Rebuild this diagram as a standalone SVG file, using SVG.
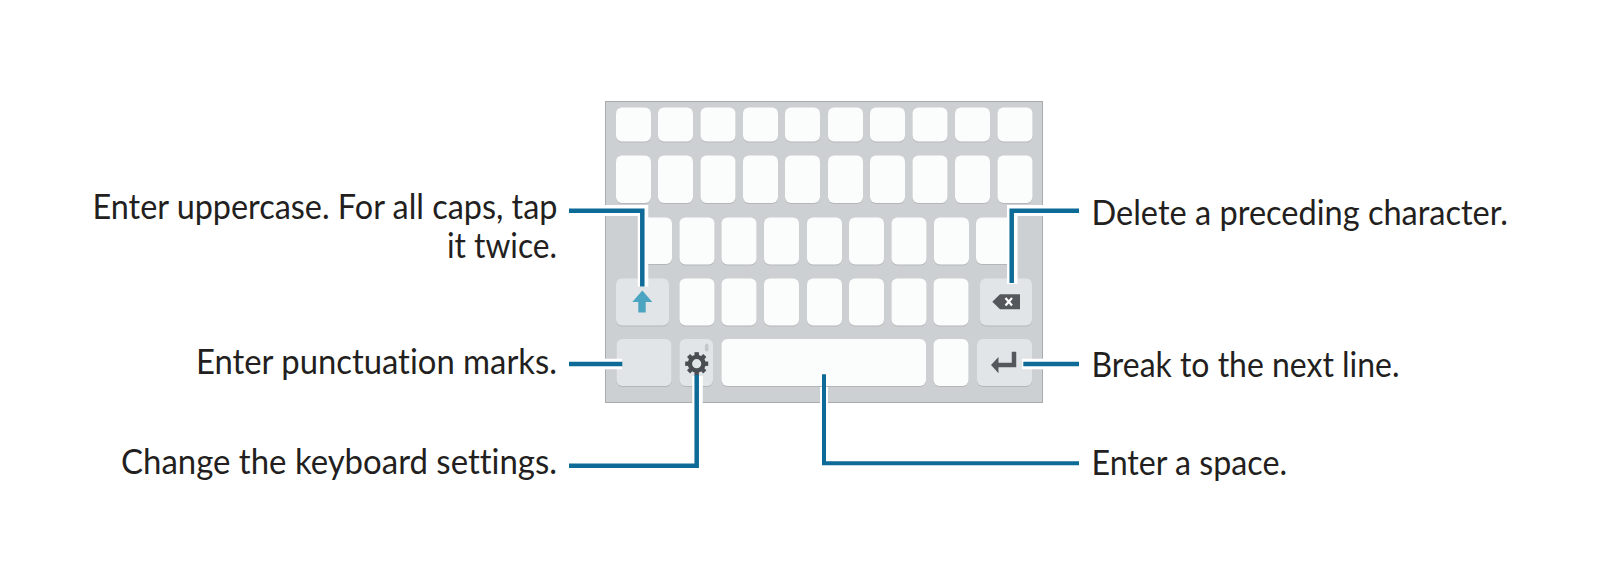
<svg xmlns="http://www.w3.org/2000/svg" width="1600" height="586" viewBox="0 0 1600 586">
<style>
.k{fill:#fbfcfc}
.f{fill:#e2e5e8}
#keys{filter:drop-shadow(0 1px 0 #b4b7ba)}
.t{font-family:"Lato","Open Sans",sans-serif;font-size:35px;fill:#231f20;font-variant-ligatures:none}
.c{fill:none;stroke:#0e6a96;stroke-width:4.500}
.h{fill:none;stroke:#fff;stroke-width:10.500}
.i{fill:#54585c}
.g{fill:#4a4d51}
</style>
<rect width="1600" height="586" fill="#fff"/>
<g id="keyboard">
<rect x="605.500" y="101.500" width="437" height="301" fill="#cdd0d3" stroke="#a9abad" stroke-width="1"/>
<rect x="600" y="205" width="48" height="11" fill="#fff"/>
<rect x="1007" y="205" width="40" height="11" fill="#fff"/>
</g>
<g id="keys">
<g id="row1">
<rect class="k" x="616" y="107.500" width="35" height="34" rx="6"/><rect class="k" x="658" y="107.500" width="35" height="34" rx="6"/><rect class="k" x="700.500" y="107.500" width="35" height="34" rx="6"/><rect class="k" x="743" y="107.500" width="35" height="34" rx="6"/><rect class="k" x="785" y="107.500" width="35" height="34" rx="6"/><rect class="k" x="828" y="107.500" width="35" height="34" rx="6"/><rect class="k" x="870" y="107.500" width="35" height="34" rx="6"/><rect class="k" x="912.500" y="107.500" width="35" height="34" rx="6"/><rect class="k" x="955" y="107.500" width="35" height="34" rx="6"/><rect class="k" x="997.500" y="107.500" width="35" height="34" rx="6"/>
</g>
<g id="row2">
<rect class="k" x="616" y="155.500" width="35" height="47.500" rx="6"/><rect class="k" x="658" y="155.500" width="35" height="47.500" rx="6"/><rect class="k" x="700.500" y="155.500" width="35" height="47.500" rx="6"/><rect class="k" x="743" y="155.500" width="35" height="47.500" rx="6"/><rect class="k" x="785" y="155.500" width="35" height="47.500" rx="6"/><rect class="k" x="828" y="155.500" width="35" height="47.500" rx="6"/><rect class="k" x="870" y="155.500" width="35" height="47.500" rx="6"/><rect class="k" x="912.500" y="155.500" width="35" height="47.500" rx="6"/><rect class="k" x="955" y="155.500" width="35" height="47.500" rx="6"/><rect class="k" x="997.500" y="155.500" width="35" height="47.500" rx="6"/>
</g>
<g id="row3">
<path class="k" d="M648 217.500H666a6 6 0 0 1 6 6V258a6 6 0 0 1-6 6H648Z"/>
<rect class="k" x="679.500" y="217.500" width="35" height="47" rx="6"/><rect class="k" x="721.500" y="217.500" width="35" height="47" rx="6"/><rect class="k" x="764" y="217.500" width="35" height="47" rx="6"/><rect class="k" x="807" y="217.500" width="35" height="47" rx="6"/><rect class="k" x="849" y="217.500" width="35" height="47" rx="6"/><rect class="k" x="891.500" y="217.500" width="35" height="47" rx="6"/><rect class="k" x="934" y="217.500" width="35" height="47" rx="6"/>
<path class="k" d="M1008 217.500H982a6 6 0 0 0-6 6V258a6 6 0 0 0 6 6H1008Z"/>
</g>
<g id="row4">
<rect class="f" x="616" y="278.500" width="53" height="47" rx="6"/>
<rect class="k" x="679.500" y="278.500" width="35" height="47" rx="6"/><rect class="k" x="721.500" y="278.500" width="35" height="47" rx="6"/><rect class="k" x="764" y="278.500" width="35" height="47" rx="6"/><rect class="k" x="807" y="278.500" width="35" height="47" rx="6"/><rect class="k" x="849" y="278.500" width="35" height="47" rx="6"/><rect class="k" x="891.500" y="278.500" width="35" height="47" rx="6"/><rect class="k" x="933.500" y="278.500" width="35" height="47" rx="6"/>
<rect class="f" x="980" y="278.500" width="52" height="47" rx="6"/>
</g>
<g id="row5">
<rect class="f" x="616.500" y="339" width="55" height="47" rx="6"/>
<rect class="f" x="679.500" y="339" width="33.500" height="47" rx="6"/>
<rect class="k" x="721.500" y="339" width="204.500" height="47" rx="6"/>
<rect class="k" x="933.500" y="339" width="35" height="47" rx="6"/>
<rect class="f" x="977" y="339" width="55" height="47" rx="6"/>
</g>
</g>
<g id="connector-halos">
<path class="h" d="M643 205V286.500"/><path class="h" d="M1012.300 205V284"/>
<path class="h" d="M600 364H622"/><path class="h" d="M1022 364H1043"/>
<path class="h" d="M697.500 376V403"/><path d="M824 387V403" fill="none" stroke="#fff" stroke-width="8"/>
</g>
<g id="icon-shift"><path d="M642.300 290.500L632.300 302H638.300V312.500H645.700V302H652.300Z" fill="#4ba5c0"/></g>
<g id="icon-settings">
<circle cx="696.700" cy="363.700" r="6.800" fill="none" stroke="#4a4d51" stroke-width="4.400"/>
<g transform="translate(696.700 363.700)">
<rect class="g" x="-2.200" y="-11.500" width="4.400" height="5"/>
<rect class="g" x="-2.200" y="-11.500" width="4.400" height="5" transform="rotate(45)"/>
<rect class="g" x="-2.200" y="-11.500" width="4.400" height="5" transform="rotate(90)"/>
<rect class="g" x="-2.200" y="-11.500" width="4.400" height="5" transform="rotate(135)"/>
<rect class="g" x="-2.200" y="-11.500" width="4.400" height="5" transform="rotate(180)"/>
<rect class="g" x="-2.200" y="-11.500" width="4.400" height="5" transform="rotate(225)"/>
<rect class="g" x="-2.200" y="-11.500" width="4.400" height="5" transform="rotate(270)"/>
<rect class="g" x="-2.200" y="-11.500" width="4.400" height="5" transform="rotate(315)"/>
</g>
<path d="M706.700 343.500q-1.800 .5-1.800 2.500v3.500q0 2 1.800 2t1.800-2v-3.500q0-2-1.800-2.500Z" fill="#c4c7ca"/>
</g>
<g id="icon-delete"><path class="i" d="M1000 294.300H1020V309.300H1000L992.300 301.800Z"/><path d="M1005.500 298L1012 305.500M1012 298L1005.500 305.500" stroke="#fff" stroke-width="2.200"/></g>
<g id="icon-enter"><path d="M1014 351.700V365H996" fill="none" stroke="#54585c" stroke-width="4.500"/><path class="i" d="M991 365L998.500 357V373.300Z"/></g>
<g id="connectors">
<path class="c" d="M569 210.700H642.300V286.500"/>
<path class="c" d="M1079 210.700H1011.700V283"/>
<path class="c" d="M569 364H622.300"/>
<path class="c" d="M1079 364H1023.300"/>
<path class="c" d="M569 465.700H696.700V375"/>
<path class="c" style="stroke-width:4" d="M1079 463.300H824V374.300"/>
</g>
<g id="labels">
<text class="t" x="92.500" y="218.500" textLength="465" lengthAdjust="spacingAndGlyphs">Enter uppercase. For all caps, tap</text>
<text class="t" x="447" y="257.500" textLength="110" lengthAdjust="spacingAndGlyphs">it twice.</text>
<text class="t" x="196" y="374" textLength="361" lengthAdjust="spacingAndGlyphs">Enter punctuation marks.</text>
<text class="t" x="121" y="473.500" textLength="436" lengthAdjust="spacingAndGlyphs">Change the keyboard settings.</text>
<text class="t" x="1091.500" y="225" textLength="416.500" lengthAdjust="spacingAndGlyphs">Delete a preceding character.</text>
<text class="t" x="1091.500" y="377.300" textLength="308" lengthAdjust="spacingAndGlyphs">Break to the next line.</text>
<text class="t" x="1091.500" y="475" textLength="195.500" lengthAdjust="spacingAndGlyphs">Enter a space.</text>
</g>
</svg>
